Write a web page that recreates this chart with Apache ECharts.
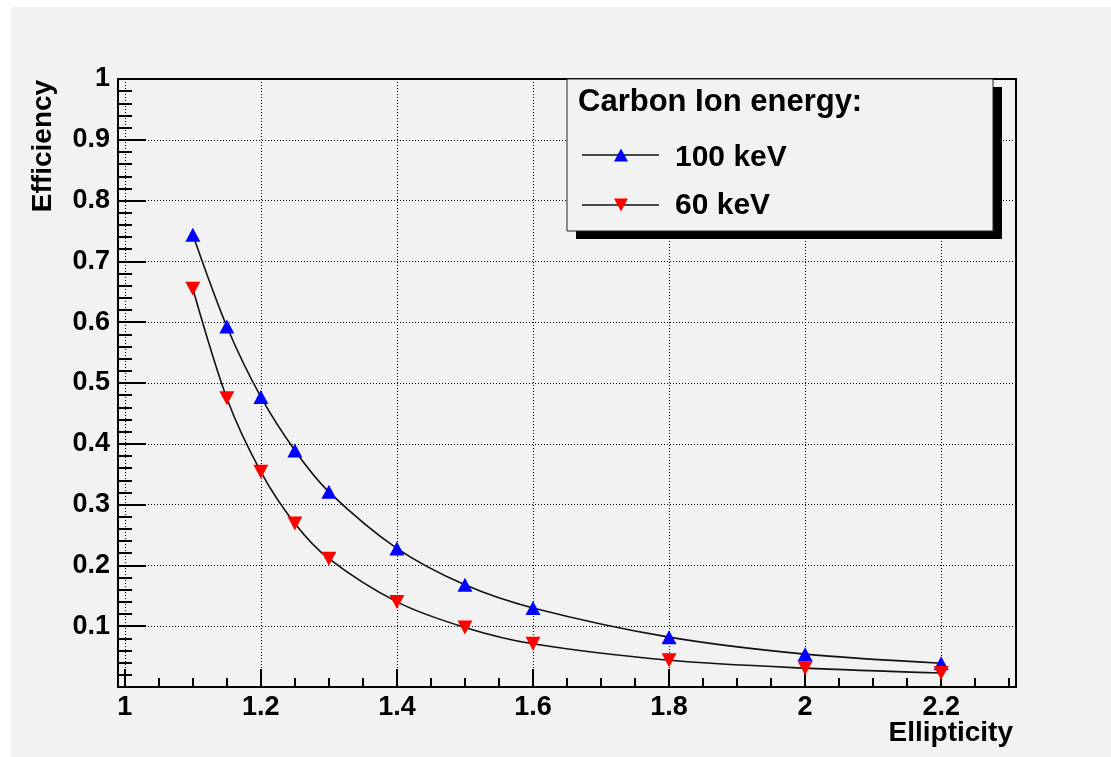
<!DOCTYPE html>
<html>
<head>
<meta charset="utf-8">
<script src="https://cdn.jsdelivr.net/npm/echarts@6/dist/echarts.min.js"></script>
<style>
  html, body { margin: 0; padding: 0; background: #ffffff; }
  #chart { width: 1111px; height: 757px; }
</style>
</head>
<body>
<div id="chart"></div>
<script>
// Detection efficiency versus track ellipticity for two carbon ion energies
const ellipticity = [1.1, 1.15, 1.2, 1.25, 1.3, 1.4, 1.5, 1.6, 1.8, 2.0, 2.2];
const eff100keV = [0.744, 0.593, 0.477, 0.389, 0.321, 0.228, 0.168, 0.130, 0.082, 0.054, 0.039];
const eff60keV  = [0.655, 0.475, 0.354, 0.269, 0.211, 0.140, 0.098, 0.071, 0.044, 0.031, 0.023];

const xMajorTicks = [1, 1.2, 1.4, 1.6, 1.8, 2, 2.2];
const xMinorTicks = [1.05, 1.1, 1.15, 1.25, 1.3, 1.35, 1.45, 1.5, 1.55, 1.65, 1.7, 1.75,
                     1.85, 1.9, 1.95, 2.05, 2.1, 2.15, 2.25, 2.3];

const legendTitle = 'Carbon Ion energy:';
const seriesNames = ['100 keV', '60 keV'];
const xTitle = 'Ellipticity';
const yTitle = 'Efficiency';

const FONT = '"Liberation Sans", Arial, Helvetica, sans-serif';
const BG = '#f2f2f2';

const chart = echarts.init(document.getElementById('chart'), null, { renderer: 'canvas' });

const pairs = ys => ellipticity.map((x, i) => [x, ys[i]]);

const gridLeft = 118, gridTop = 79, gridRight = 1111 - 1016, gridBottom = 757 - 687;

const dotted = { color: '#000', width: 1.1, type: [1, 2] };

// legend box geometry
const lg = { x: 567, y: 79, w: 426, h: 152 };

function triangle(cx, cy, up, color) {
  const hw = 7, hh = 6.5;
  const pts = up
    ? [[cx, cy - hh], [cx + hw, cy + hh], [cx - hw, cy + hh]]
    : [[cx - hw, cy - hh], [cx + hw, cy - hh], [cx, cy + hh]];
  return { type: 'polygon', shape: { points: pts }, style: { fill: color }, z: 105 };
}

const option = {
  animation: false,
  backgroundColor: '#ffffff',
  grid: {
    left: gridLeft, top: gridTop, right: gridRight, bottom: gridBottom,
    show: true, backgroundColor: BG, borderColor: '#000', borderWidth: 2
  },
  xAxis: [
    {
      type: 'value', min: 0.99, max: 2.31, splitNumber: 7,
      axisLine: { show: true, onZero: false, lineStyle: { color: '#000', width: 2 } },
      axisTick: { show: true, inside: true, length: 18, customValues: xMajorTicks,
                  lineStyle: { color: '#000', width: 2 } },
      axisLabel: { show: true, customValues: xMajorTicks, margin: 7,
                   color: '#000', fontFamily: FONT, fontWeight: 'bold', fontSize: 27,
                   formatter: v => String(v) },
      splitLine: { show: true, lineStyle: dotted },
      minorTick: { show: false }
    },
    {
      type: 'value', min: 0.99, max: 2.31, position: 'bottom',
      axisLine: { show: false, onZero: false },
      axisTick: { show: true, inside: true, length: 9, customValues: xMinorTicks,
                  lineStyle: { color: '#000', width: 2 } },
      axisLabel: { show: false },
      splitLine: { show: false }
    }
  ],
  yAxis: {
    type: 'value', min: 0, max: 1, interval: 0.1,
    axisLine: { show: true, onZero: false, lineStyle: { color: '#000', width: 2 } },
    axisTick: { show: true, inside: true, length: 28, lineStyle: { color: '#000', width: 2 } },
    minorTick: { show: true, splitNumber: 5, length: 14, lineStyle: { color: '#000', width: 2 } },
    axisLabel: { margin: 8, color: '#000', fontFamily: FONT, fontWeight: 'bold', fontSize: 27,
                 formatter: v => (v === 0 ? '' : String(+v.toFixed(1))) },
    splitLine: { show: true, lineStyle: dotted }
  },
  series: [
    {
      name: seriesNames[0], type: 'line', data: pairs(eff100keV),
      smooth: 0.3,
      symbol: 'triangle', symbolSize: [15, 14], showAllSymbol: true,
      itemStyle: { color: '#0000ff' },
      lineStyle: { color: '#111', width: 1.6 },
      emphasis: { disabled: true }, z: 3
    },
    {
      name: seriesNames[1], type: 'line', data: pairs(eff60keV),
      smooth: 0.3,
      symbol: 'triangle', symbolRotate: 180, symbolSize: [15, 14], showAllSymbol: true,
      itemStyle: { color: '#ff0000' },
      lineStyle: { color: '#111', width: 1.6 },
      emphasis: { disabled: true }, z: 4
    }
  ],
  graphic: [
    // canvas panel
    { type: 'rect', shape: { x: 11, y: 7, width: 1100, height: 750 }, style: { fill: BG }, z: -10, silent: true },
    // axis titles
    { type: 'text', x: 43, y: 146, rotation: Math.PI / 2,
      style: { text: yTitle, fill: '#000', font: 'bold 28px ' + FONT, align: 'center', verticalAlign: 'middle' }, z: 100 },
    { type: 'text', x: 1013, y: 733,
      style: { text: xTitle, fill: '#000', font: 'bold 28px ' + FONT, align: 'right', verticalAlign: 'middle' }, z: 100 },
    // legend shadow and box
    { type: 'rect', shape: { x: lg.x + 9, y: lg.y + 8, width: lg.w, height: lg.h }, style: { fill: '#000' }, z: 100 },
    { type: 'rect', shape: { x: lg.x, y: lg.y, width: lg.w, height: lg.h },
      style: { fill: BG, stroke: '#222', lineWidth: 1 }, z: 101 },
    { type: 'text', x: 578, y: 102,
      style: { text: legendTitle, fill: '#000', font: 'bold 31px ' + FONT, align: 'left', verticalAlign: 'middle' }, z: 105 },
    { type: 'line', shape: { x1: 582, y1: 155, x2: 659, y2: 155 }, style: { stroke: '#111', lineWidth: 1.6 }, z: 104 },
    triangle(621, 155, true, '#0000ff'),
    { type: 'text', x: 675, y: 158,
      style: { text: seriesNames[0], fill: '#000', font: 'bold 30px ' + FONT, align: 'left', verticalAlign: 'middle' }, z: 105 },
    { type: 'line', shape: { x1: 582, y1: 205, x2: 659, y2: 205 }, style: { stroke: '#111', lineWidth: 1.6 }, z: 104 },
    triangle(621, 205, false, '#ff0000'),
    { type: 'text', x: 675, y: 206,
      style: { text: seriesNames[1], fill: '#000', font: 'bold 30px ' + FONT, align: 'left', verticalAlign: 'middle' }, z: 105 }
  ]
};

chart.setOption(option);
</script>
</body>
</html>
